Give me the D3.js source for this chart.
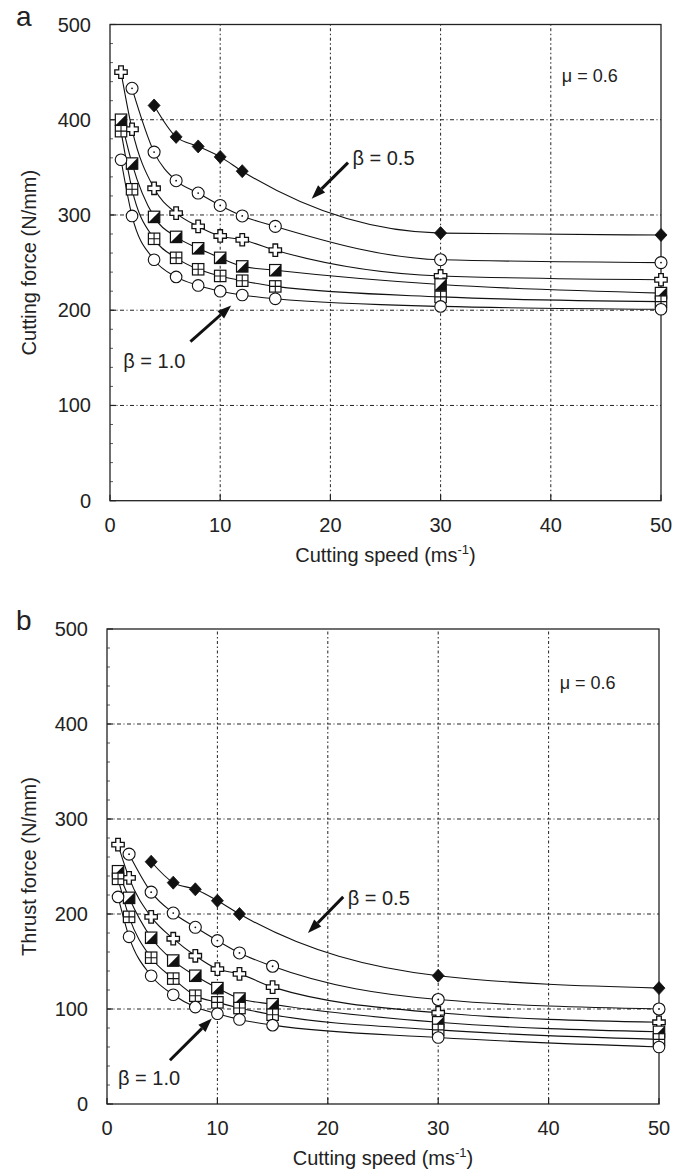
<!DOCTYPE html>
<html><head><meta charset="utf-8">
<script src="https://cdn.jsdelivr.net/npm/d3@7"></script>
<style>
html,body{margin:0;padding:0;background:#fff;}
text{font-family:"Liberation Sans",Arial,Helvetica,sans-serif;fill:#222;}
</style></head>
<body>
<script>
// ---------- data ----------
const speeds = [1, 2, 4, 6, 8, 10, 12, 15, 30, 50];
const betaLabels = ["0.5", "0.6", "0.7", "0.8", "0.9", "1.0"];
const markerTypes = ["diamond", "dotcircle", "plus", "halfsquare", "gridsquare", "circle"];
const xTicks = [0, 10, 20, 30, 40, 50];
const yTicks = [0, 100, 200, 300, 400, 500];

// Cutting force (N/mm), one array per beta (null = no point)
const cutB05 = [null, null, 415, 382, 372, 361, 346, null, 281, 279];
const cutB06 = [null, 433, 366, 336, 323, 310, 299, 288, 253, 250];
const cutB07 = [450, 390, 328, 302, 288, 278, 274, 263, 236, 232];
const cutB08 = [400, 354, 298, 277, 265, 255, 246, 242, 227, 218];
const cutB09 = [388, 327, 275, 255, 243, 236, 231, 225, 214, 209];
const cutB10 = [358, 299, 253, 235, 226, 220, 216, 212, 204, 201];

// Thrust force (N/mm)
const thrB05 = [null, null, 255, 233, 226, 214, 200, null, 135, 122];
const thrB06 = [null, 263, 223, 201, 186, 172, 159, 145, 110, 100];
const thrB07 = [273, 238, 197, 174, 156, 142, 137, 123, 96, 86];
const thrB08 = [245, 217, 175, 151, 135, 122, 111, 105, 86, 76];
const thrB09 = [237, 197, 154, 132, 114, 107, 101, 94, 78, 68];
const thrB10 = [218, 176, 135, 115, 102, 95, 89, 83, 70, 60];

const cutSeries = [cutB05, cutB06, cutB07, cutB08, cutB09, cutB10];
const thrSeries = [thrB05, thrB06, thrB07, thrB08, thrB09, thrB10];

// annotations in data units: [x, y]
const cutArrow05 = {tail: [21.6, 355], head: [18.3, 317], text: [22.0, 352], label: "β = 0.5"};
const cutArrow10 = {tail: [7.3, 167], head: [11.0, 205], text: [1.2, 139], label: "β = 1.0"};
const thrArrow05 = {tail: [21.4, 218], head: [18.2, 180], text: [21.8, 210], label: "β = 0.5"};
const thrArrow10 = {tail: [5.7, 46], head: [9.5, 90], text: [1.0, 20], label: "β = 1.0"};
const muLabel = "μ = 0.6";

// ---------- layout ----------
const W = 691, H = 1174;
const svg = d3.select("body").append("svg").attr("width", W).attr("height", H);

const panels = [
  {letter: "a", series: cutSeries, yTitle: "Cutting force (N/mm)",
   xr: [110, 661], yr: [500.7, 24.5], arrows: [cutArrow05, cutArrow10], mu: [41.0, 440]},
  {letter: "b", series: thrSeries, yTitle: "Thrust force (N/mm)",
   xr: [107, 659], yr: [1104, 629], arrows: [thrArrow05, thrArrow10], mu: [41.0, 437]}
];

function drawMarker(g, type) {
  const s = 5.7;
  if (type === "diamond") {
    g.append("path").attr("d", `M0,${-6.5}L6,0L0,6.5L-6,0Z`).attr("fill", "#111").attr("stroke", "#111").attr("stroke-width", 0.8);
  } else if (type === "dotcircle") {
    g.append("circle").attr("r", 6).attr("fill", "#fff").attr("stroke", "#111").attr("stroke-width", 1.1);
    g.append("circle").attr("r", 0.9).attr("fill", "#111");
  } else if (type === "circle") {
    g.append("circle").attr("r", 5.8).attr("fill", "#fff").attr("stroke", "#111").attr("stroke-width", 1.1);
  } else if (type === "plus") {
    const a = 2.3, b = 6.2;
    g.append("path").attr("d",
      `M${-a},${-b}H${a}V${-a}H${b}V${a}H${a}V${b}H${-a}V${a}H${-b}V${-a}H${-a}Z`)
      .attr("fill", "#fff").attr("stroke", "#111").attr("stroke-width", 1.3);
  } else if (type === "halfsquare") {
    g.append("rect").attr("x", -s).attr("y", -s).attr("width", 2 * s).attr("height", 2 * s)
      .attr("fill", "#fff").attr("stroke", "#111").attr("stroke-width", 1.2);
    g.append("path").attr("d", `M${-s},${s}L${s},${-s}L${s},${s}Z`).attr("fill", "#111");
  } else if (type === "gridsquare") {
    g.append("rect").attr("x", -s).attr("y", -s).attr("width", 2 * s).attr("height", 2 * s)
      .attr("fill", "#fff").attr("stroke", "#111").attr("stroke-width", 1.2);
    g.append("path").attr("d", `M0,${-s}V${s}M${-s},0H${s}`).attr("stroke", "#111").attr("stroke-width", 1.1);
  }
}

panels.forEach(p => {
  const x = d3.scaleLinear().domain([0, 50]).range(p.xr);
  const y = d3.scaleLinear().domain([0, 500]).range(p.yr);
  const g = svg.append("g");

  // grid
  g.selectAll(".hg").data(yTicks.slice(1, -1)).join("line")
    .attr("x1", x(0)).attr("x2", x(50)).attr("y1", d => y(d)).attr("y2", d => y(d))
    .attr("stroke", "#222").attr("stroke-width", 1).attr("stroke-dasharray", "4,2.5,1,2.5");
  g.selectAll(".vg").data(xTicks.slice(1, -1)).join("line")
    .attr("y1", y(0)).attr("y2", y(500)).attr("x1", d => x(d)).attr("x2", d => x(d))
    .attr("stroke", "#222").attr("stroke-width", 1).attr("stroke-dasharray", "1.5,2.5,3,2.5");

  // minor ticks on left axis
  const minor = d3.range(20, 500, 20).filter(v => v % 100 !== 0);
  g.selectAll(".mt").data(minor).join("line")
    .attr("x1", x(0)).attr("x2", x(0) + 3).attr("y1", d => y(d)).attr("y2", d => y(d))
    .attr("stroke", "#333").attr("stroke-width", 0.8);
  // major ticks
  g.selectAll(".xt").data(xTicks).join("line")
    .attr("x1", d => x(d)).attr("x2", d => x(d)).attr("y1", y(0)).attr("y2", y(0) - 6)
    .attr("stroke", "#222").attr("stroke-width", 1.2);
  g.selectAll(".yt").data(yTicks).join("line")
    .attr("x1", x(0)).attr("x2", x(0) + 6).attr("y1", d => y(d)).attr("y2", d => y(d))
    .attr("stroke", "#222").attr("stroke-width", 1.2);

  // frame
  g.append("rect").attr("x", x(0)).attr("y", y(500)).attr("width", x(50) - x(0)).attr("height", y(0) - y(500))
    .attr("fill", "none").attr("stroke", "#222").attr("stroke-width", 1.3);

  // tick labels
  g.selectAll(".xl").data(xTicks).join("text")
    .attr("x", d => x(d)).attr("y", y(0) + 31).attr("text-anchor", "middle")
    .attr("font-size", 20).text(d => d);
  g.selectAll(".yl").data(yTicks).join("text")
    .attr("x", x(0) - 19).attr("y", d => y(d) + 7).attr("text-anchor", "end")
    .attr("font-size", 20).text(d => d);

  // titles
  const xt = g.append("text").attr("x", (x(0) + x(50)) / 2).attr("y", y(0) + 61)
    .attr("text-anchor", "middle").attr("font-size", 20);
  xt.append("tspan").text("Cutting speed (ms");
  xt.append("tspan").attr("font-size", 13).attr("dy", -8).text("-1");
  xt.append("tspan").attr("dy", 8).text(")");
  g.append("text").attr("transform", `translate(36,${(y(0) + y(500)) / 2}) rotate(-90)`)
    .attr("text-anchor", "middle").attr("font-size", 20).text(p.yTitle);
  g.append("text").attr("x", 16).attr("y", Math.max(y(500) + 1, 26)).attr("font-size", 28).text(p.letter);

  // curves
  const line = d3.line().x(d => x(d[0])).y(d => y(d[1])).curve(d3.curveMonotoneX);
  p.series.forEach(vals => {
    const pts = speeds.map((s, j) => [s, vals[j]]).filter(d => d[1] != null);
    g.append("path").attr("d", line(pts)).attr("fill", "none").attr("stroke", "#111").attr("stroke-width", 1.1);
  });
  p.series.forEach((vals, i) => {
    speeds.forEach((s, j) => {
      if (vals[j] == null) return;
      const mg = g.append("g").attr("transform", `translate(${x(s)},${y(vals[j])})`);
      drawMarker(mg, markerTypes[i]);
    });
  });

  // annotations
  p.arrows.forEach(a => {
    const tx = x(a.tail[0]), ty = y(a.tail[1]), hx = x(a.head[0]), hy = y(a.head[1]);
    const ang = Math.atan2(hy - ty, hx - tx);
    const L = 14, Wd = 5;
    const bx = hx - L * Math.cos(ang), by = hy - L * Math.sin(ang);
    g.append("line").attr("x1", tx).attr("y1", ty).attr("x2", bx).attr("y2", by)
      .attr("stroke", "#111").attr("stroke-width", 3);
    g.append("path").attr("d",
      `M${hx},${hy}L${bx + Wd * Math.sin(ang)},${by - Wd * Math.cos(ang)}L${bx - Wd * Math.sin(ang)},${by + Wd * Math.cos(ang)}Z`)
      .attr("fill", "#111");
    g.append("text").attr("x", x(a.text[0])).attr("y", y(a.text[1])).attr("font-size", 20).text(a.label);
  });
  g.append("text").attr("x", x(p.mu[0])).attr("y", y(p.mu[1])).attr("font-size", 18).text(muLabel);
});
</script>
</body></html>
